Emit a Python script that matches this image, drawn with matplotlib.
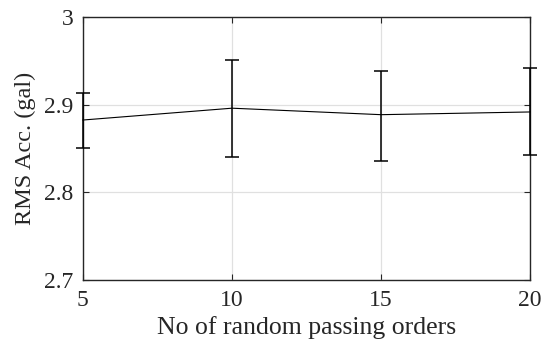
import matplotlib
matplotlib.use("Agg")
import matplotlib.pyplot as plt

x = [5, 10, 15, 20]
mean = [2.8825, 2.896, 2.8886, 2.8917]
upper = [2.913, 2.951, 2.939, 2.942]
lower = [2.851, 2.840, 2.836, 2.843]
xticks = [5, 10, 15, 20]
yticks = [2.7, 2.8, 2.9, 3.0]
yticklabels = ["2.7", "2.8", "2.9", "3"]

plt.rcParams['font.family'] = ['Liberation Serif', 'DejaVu Serif']

fig = plt.figure(figsize=(5.42, 3.41), dpi=100)
ax = fig.add_axes([0.153, 0.179, 0.825, 0.771])

yerr = [[m - l for m, l in zip(mean, lower)], [u - m for m, u in zip(mean, upper)]]
ax.errorbar(x, mean, yerr=yerr, color='black', lw=0.8, elinewidth=1.1,
            capsize=4.7, capthick=1.1, clip_on=False, zorder=3)

ax.set_xlim(5, 20)
ax.set_ylim(2.7, 3.0)
ax.set_xticks(xticks)
ax.set_yticks(yticks)
ax.set_yticklabels(yticklabels)
ax.grid(True, color='#e0e0e0', lw=0.9)
ax.set_axisbelow(True)
ax.tick_params(direction='in', top=True, right=True, length=4, width=0.8,
               labelsize=17, pad=7, colors='#262626', labelcolor='#262626')
for s in ax.spines.values():
    s.set_color('#262626')
    s.set_linewidth(1.0)
ax.set_xlabel('No of random passing orders', fontsize=18.5, color='#262626', labelpad=4)
ax.set_ylabel('RMS Acc. (gal)', fontsize=17.5, color='#262626', labelpad=6)

fig.savefig('out.png', dpi=100)
